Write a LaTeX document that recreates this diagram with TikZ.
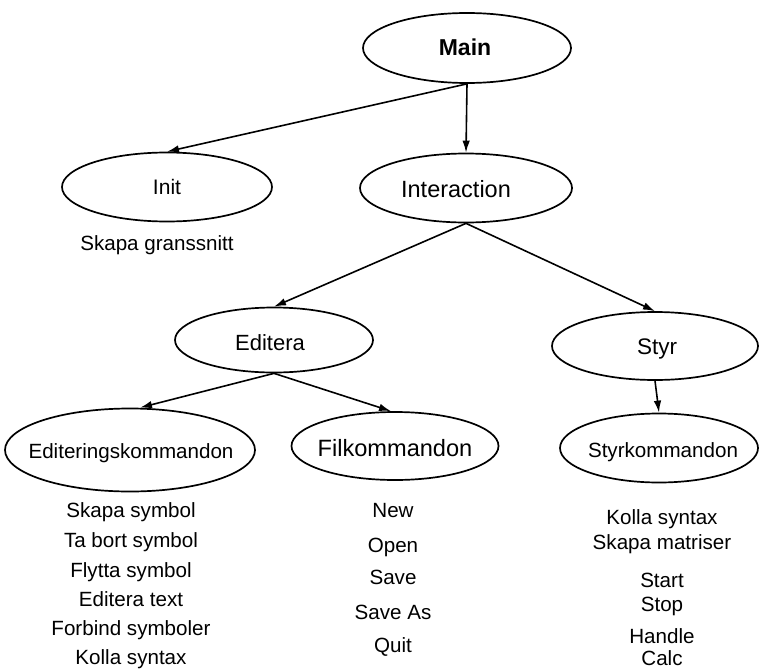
\documentclass[tikz,border=0pt]{standalone}
\usepackage{fontspec}
\setmainfont{Liberation Sans}
\usetikzlibrary{shapes.geometric,arrows.meta}

\newcommand{\fs}[1]{\fontsize{#1}{#1}\selectfont}

\tikzset{
  blob/.style={ellipse, draw=black, line width=1.7pt, inner sep=0pt},
  % labels are placed by their baseline
  lbl/.style={inner sep=0pt, anchor=base, font=\fs{20.6}},
  arr/.style={line width=1.6pt, -{Latex[length=12pt,width=7.5pt]}},
}

\begin{document}
\begin{tikzpicture}[x=1pt,y=-1pt]
  \path[use as bounding box, fill=white] (0,0) rectangle (760,669);

  % module ellipses
  \node[blob, minimum width=208pt, minimum height=70pt] (main)  at (467,48)  {};
  \node[blob, minimum width=210pt, minimum height=69pt] (init)  at (167,187) {};
  \node[blob, minimum width=212pt, minimum height=69pt] (inter) at (466,188) {};
  \node[blob, minimum width=198pt, minimum height=65pt] (edit)  at (274,340) {};
  \node[blob, minimum width=206pt, minimum height=68pt] (styr)  at (655,346) {};
  \node[blob, minimum width=250pt, minimum height=83pt] (editk) at (130,450) {};
  \node[blob, minimum width=207pt, minimum height=68pt] (filk)  at (395,446) {};
  \node[blob, minimum width=198pt, minimum height=69pt] (styrk) at (659,448) {};

  % module names
  \node[lbl, font=\fs{23}\bfseries] (main-t)  at (465,56)  {Main};
  \node[lbl, font=\fs{21}]          (init-t)  at (167,194) {Init};
  \node[lbl, font=\fs{23.5}]        (inter-t) at (456,197) {Interaction};
  \node[lbl, font=\fs{22}]          (edit-t)  at (270,350) {Editera};
  \node[lbl, font=\fs{22.5}]        (styr-t)  at (657,354) {Styr};
  \node[lbl]                        (editk-t) at (131,458) {Editeringskommandon};
  \node[lbl, font=\fs{23.6}]        (filk-t)  at (395,456) {Filkommandon};
  \node[lbl]                        (styrk-t) at (663,457) {Styrkommandon};

  % call hierarchy
  \draw[arr] (main.south) -- (init.north);
  \draw[arr] (main.south) -- (inter.north);
  \draw[arr] (inter.south) -- (edit.north);
  \draw[arr] (inter.south) -- (styr.north);
  \draw[arr] (edit.south) -- ([xshift=10pt]editk.north);
  \draw[arr] (edit.south) -- ([xshift=-4pt]filk.north);
  \draw[arr] (styr.south) -- (styrk.north);

  % operations of each module
  \node[lbl] (init-op) at (157,250) {Skapa granssnitt};

  \foreach \t/\y [count=\i] in {Skapa symbol/517, Ta bort symbol/547,
      Flytta symbol/577, Editera text/606, Forbind symboler/635, Kolla syntax/664}
    \node[lbl] (ek-\i) at (131,\y) {\t};

  \foreach \t/\y [count=\i] in {New/517, Open/552, Save/584, Save As/619, Quit/652}
    \node[lbl] (fk-\i) at (393,\y) {\t};

  \foreach \t/\y [count=\i] in {Kolla syntax/524, Skapa matriser/549, Start/587,
      Stop/611, Handle/643, Calc/665}
    \node[lbl] (sk-\i) at (662,\y) {\t};
\end{tikzpicture}
\end{document}
